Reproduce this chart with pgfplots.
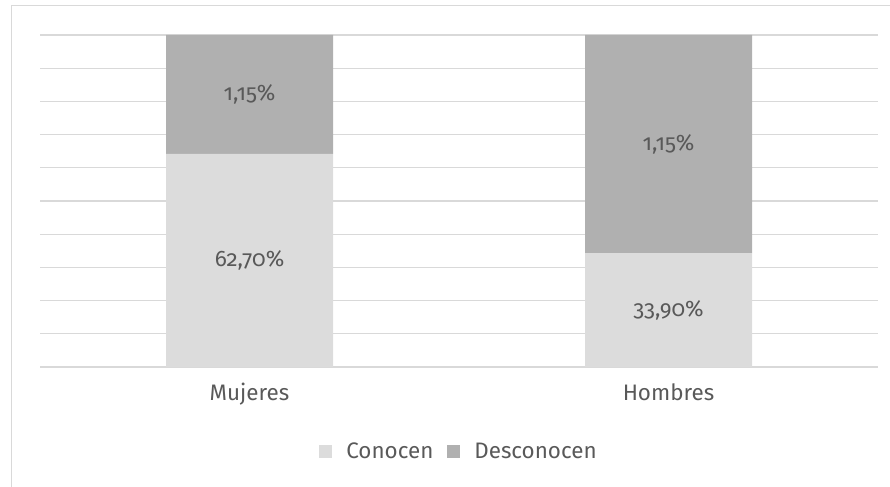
\documentclass[border=0pt]{standalone}
\usepackage{fontspec}
\setmainfont[Numbers=OldStyle]{Fira Sans}
\usepackage{pgfplots}
\pgfplotsset{compat=1.18}
\definecolor{txtc}{HTML}{595959}
\definecolor{gridc}{HTML}{D9D9D9}
\definecolor{conc}{HTML}{DCDCDC}
\definecolor{desc}{HTML}{B0B0B0}
\newcommand\lab{\fontsize{22.5}{26}\selectfont}
\begin{document}
\begin{tikzpicture}[x=1bp,y=1bp]
\useasboundingbox (0,0) rectangle (890,487);
\draw[color=gridc, line width=1bp] (11,-2) -- (11,481) -- (892,481);
\begin{axis}[
  at={(40bp,120bp)}, anchor=south west,
  scale only axis, width=838bp, height=332bp,
  ybar stacked, bar width=167bp,
  xmin=-0.5, xmax=1.5, ymin=0, ymax=100,
  xtick={0,1}, xticklabels={Mujeres,Hombres},
  ytick={0,10,...,100}, yticklabels={},
  ymajorgrids, major grid style={color=gridc, line width=1.3bp},
  major tick length=0pt,
  axis x line*=bottom, axis y line*=left,
  y axis line style={draw=none},
  x axis line style={color=gridc, line width=1.3bp, -},
  xticklabel style={font=\lab, text=txtc, yshift=-13bp},
  legend style={at={(0.5,-0.255)}, anchor=center, draw=none, font=\lab, text=txtc, legend columns=2, column sep=12bp},
  legend image code/.code={\fill[#1] (0bp,-6.5bp) rectangle (13bp,6.5bp);},
]
\addplot[fill=conc, draw=none] coordinates {(0,64.2) (1,34.3)};
\addplot[fill=desc, draw=none] coordinates {(0,35.8) (1,65.7)};
\legend{Conocen,Desconocen}
\coordinate (a) at (axis cs:0,32.1);
\coordinate (b) at (axis cs:0,82.1);
\coordinate (c) at (axis cs:1,17.15);
\coordinate (d) at (axis cs:1,67.15);
\end{axis}
\node[text=txtc, font=\lab] at (a) {62,70\%};
\node[text=txtc, font=\lab] at (b) {1,15\%};
\node[text=txtc, font=\lab] at (c) {33,90\%};
\node[text=txtc, font=\lab] at (d) {1,15\%};
\end{tikzpicture}
\end{document}
